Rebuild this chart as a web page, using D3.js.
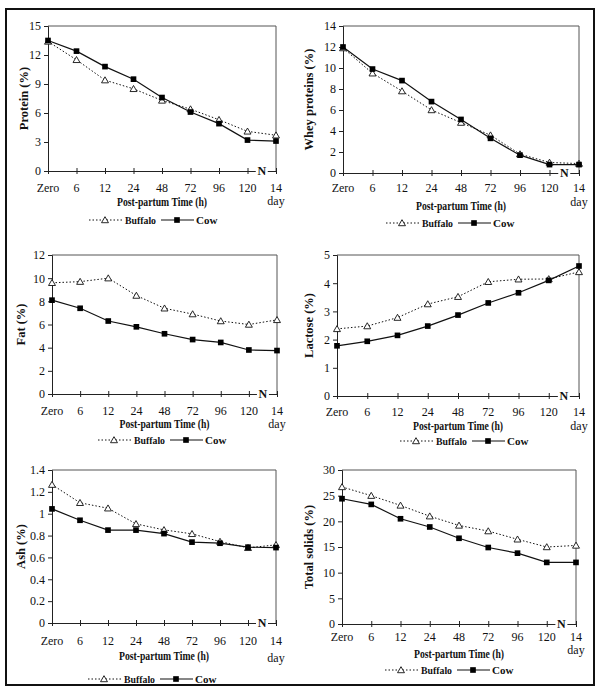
<!DOCTYPE html>
<html><head><meta charset="utf-8">
<script src="https://cdn.jsdelivr.net/npm/d3@7"></script>
<style>
body{margin:0;background:#fff;}
svg{display:block;font-family:"Liberation Serif","Times New Roman",serif;}
</style></head>
<body><svg id="c" width="600" height="700"></svg>
<script>
// ---- data ----
const categories = ["Zero","6","12","24","48","72","96","120","14"];
const seriesNames = ["Buffalo","Cow"];

const proteinBuffalo = [13.4, 11.5, 9.4, 8.5, 7.3, 6.4, 5.3, 4.1, 3.7];
const proteinCow     = [13.5, 12.4, 10.8, 9.5, 7.6, 6.1, 4.9, 3.2, 3.1];
const wheyBuffalo    = [11.9, 9.5, 7.8, 6.0, 4.8, 3.6, 1.8, 1.0, 0.9];
const wheyCow        = [12.0, 9.9, 8.8, 6.8, 5.1, 3.3, 1.7, 0.8, 0.8];
const fatBuffalo     = [9.6, 9.7, 10.0, 8.5, 7.4, 6.9, 6.3, 6.0, 6.4];
const fatCow         = [8.1, 7.4, 6.3, 5.8, 5.2, 4.7, 4.45, 3.8, 3.75];
const lactoseBuffalo = [2.38, 2.48, 2.78, 3.26, 3.52, 4.05, 4.14, 4.15, 4.4];
const lactoseCow     = [1.78, 1.94, 2.15, 2.48, 2.87, 3.3, 3.66, 4.1, 4.61];
const ashBuffalo     = [1.266, 1.10, 1.05, 0.907, 0.852, 0.816, 0.745, 0.688, 0.715];
const ashCow         = [1.044, 0.94, 0.85, 0.85, 0.818, 0.74, 0.73, 0.694, 0.69];
const tsBuffalo      = [26.7, 25.0, 23.1, 21.0, 19.2, 18.1, 16.5, 15.0, 15.3];
const tsCow          = [24.4, 23.3, 20.5, 18.9, 16.7, 14.9, 13.8, 12.0, 12.0];

const proteinTicks = [0,3,6,9,12,15];
const wheyTicks    = [0,2,4,6,8,10,12,14];
const fatTicks     = [0,2,4,6,8,10,12];
const lactoseTicks = [0,1,2,3,4,5];
const ashTicks     = [0,0.2,0.4,0.6,0.8,1,1.2,1.4];
const tsTicks      = [0,5,10,15,20,25,30];

const yTitles = ["Protein (%)","Whey proteins (%)","Fat (%)","Lactose (%)","Ash (%)","Total solids (%)"];
const xTitle = "Post-partum Time (h)";
const dayLabel = "day";
const breakLabel = "N";

// ---- layout (positions only) ----
const layout = [
  {x0:48, x1:276, yT:26, yB:171, tk:21, tt:35, dy:34, lg:49, lx:89,  yx:23},
  {x0:343,x1:579, yT:26, yB:173, tk:19, tt:37, dy:33, lg:50, lx:386, yx:308},
  {x0:52, x1:277, yT:255,yB:394, tk:21, tt:34, dy:34, lg:46, lx:98,  yx:20},
  {x0:337,x1:579, yT:255,yB:396, tk:20, tt:34, dy:34, lg:45, lx:400, yx:308},
  {x0:52, x1:276, yT:470,yB:623, tk:22, tt:37, dy:39, lg:56, lx:88,  yx:20},
  {x0:342,x1:576, yT:470,yB:624, tk:17, tt:34, dy:30, lg:46, lx:385, yx:308}
];
const panelData = [
  [proteinBuffalo, proteinCow, proteinTicks],
  [wheyBuffalo, wheyCow, wheyTicks],
  [fatBuffalo, fatCow, fatTicks],
  [lactoseBuffalo, lactoseCow, lactoseTicks],
  [ashBuffalo, ashCow, ashTicks],
  [tsBuffalo, tsCow, tsTicks]
];

const svg = d3.select("#c");
svg.append("rect").attr("x",6).attr("y",9).attr("width",588).attr("height",676)
  .attr("fill","none").attr("stroke","#111").attr("stroke-width",2);

const triPath = d3.symbol().type(d3.symbolTriangle).size(21);
const sqPath = d3.symbol().type(d3.symbolSquare).size(32);
const lineCol = "#111";

panelData.forEach((pd, i) => {
  const L = layout[i];
  const [buf, cow, ticks] = pd;
  const g = svg.append("g");
  const x = d3.scalePoint().domain(categories).range([L.x0, L.x1]).padding(0);
  const y = d3.scaleLinear().domain([ticks[0], ticks[ticks.length-1]]).range([L.yB, L.yT]);

  // plot box (top & right)
  g.append("path").attr("d", `M${L.x0},${L.yT}H${L.x1}V${L.yB}`)
    .attr("fill","none").attr("stroke","#555").attr("stroke-width",1);

  // y axis
  const ya = g.append("g").attr("transform",`translate(${L.x0},0)`)
    .call(d3.axisLeft(y).tickValues(ticks).tickSize(4).tickPadding(3).tickFormat(d3.format("~g")));
  ya.select(".domain").attr("stroke","#222");
  ya.selectAll(".tick line").attr("stroke","#222");
  ya.selectAll("text").attr("font-size",12).attr("fill","#111")
    .attr("font-family","Liberation Serif, serif");

  // x axis
  const xa = g.append("g").attr("transform",`translate(0,${L.yB})`)
    .call(d3.axisBottom(x).tickSize(3).tickSizeOuter(0).tickFormat(() => ""));
  xa.select(".domain").attr("stroke","#222");
  xa.selectAll(".tick line").attr("y1",-3).attr("y2",3).attr("stroke","#222");
  g.selectAll(".xl").data(categories).join("text")
    .attr("x", d => x(d)).attr("y", L.yB + L.tk)
    .attr("text-anchor","middle").attr("font-size",12).attr("fill","#111")
    .text(d => d);
  g.append("text").attr("x", x(categories[categories.length-1])).attr("y", L.yB + L.dy)
    .attr("text-anchor","middle").attr("font-size",12).attr("fill","#111").text(dayLabel);

  // break marker
  const bx = (x(categories[7]) + x(categories[8]))/2;
  g.append("rect").attr("x", bx-6).attr("y", L.yB-2).attr("width",12).attr("height",4).attr("fill","#fff");
  g.append("text").attr("x", bx).attr("y", L.yB+4).attr("text-anchor","middle")
    .attr("font-size",12).attr("font-weight","bold").attr("fill","#111").text(breakLabel);

  // titles
  g.append("text").attr("x",(L.x0+L.x1)/2).attr("y", L.yB + L.tt)
    .attr("text-anchor","middle").attr("font-size",11.5).attr("font-weight","bold")
    .attr("textLength",90).attr("lengthAdjust","spacingAndGlyphs")
    .attr("fill","#111").text(xTitle);
  g.append("text").attr("transform",`translate(${L.yx+4.5},${(L.yT+L.yB)/2}) rotate(-90)`)
    .attr("text-anchor","middle").attr("font-size",12.5).attr("font-weight","bold")
    .attr("fill","#111").text(yTitles[i]);

  // lines
  const line = d3.line().x((d,j) => x(categories[j])).y(d => y(d));
  g.append("path").attr("d", line(buf)).attr("fill","none").attr("stroke",lineCol)
    .attr("stroke-width",1).attr("stroke-dasharray","1.5,2");
  g.append("path").attr("d", line(cow)).attr("fill","none").attr("stroke",lineCol)
    .attr("stroke-width",1.2);
  g.selectAll(".tri").data(buf).join("path")
    .attr("transform",(d,j) => `translate(${x(categories[j])},${y(d)+0.7})`)
    .attr("d", triPath).attr("fill","#fff").attr("stroke",lineCol).attr("stroke-width",0.9);
  g.selectAll(".sq").data(cow).join("path")
    .attr("transform",(d,j) => `translate(${x(categories[j])},${y(d)})`)
    .attr("d", sqPath).attr("fill","#000");

  // legend
  const ly = L.yB + L.lg;
  const lg = g.append("g").attr("transform",`translate(${L.lx},${ly})`);
  lg.append("line").attr("x1",0).attr("x2",34).attr("y1",0).attr("y2",0)
    .attr("stroke",lineCol).attr("stroke-dasharray","1.5,2");
  lg.append("path").attr("transform","translate(16,0.7)").attr("d",triPath)
    .attr("fill","#fff").attr("stroke",lineCol).attr("stroke-width",0.9);
  lg.append("text").attr("x",36).attr("y",4).attr("font-size",11).attr("font-weight","bold")
    .attr("textLength",31).attr("lengthAdjust","spacingAndGlyphs")
    .attr("fill","#111").text(seriesNames[0]);
  lg.append("line").attr("x1",72).attr("x2",105).attr("y1",0).attr("y2",0)
    .attr("stroke",lineCol).attr("stroke-width",1.2);
  lg.append("path").attr("transform","translate(88,0)").attr("d",sqPath).attr("fill","#000");
  lg.append("text").attr("x",107).attr("y",4).attr("font-size",11).attr("font-weight","bold")
    .attr("fill","#111").text(seriesNames[1]);
});
</script>
</body></html>
